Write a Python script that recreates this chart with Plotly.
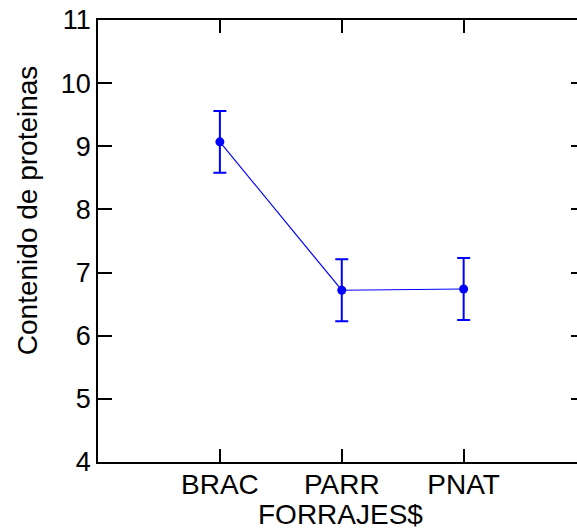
import plotly.graph_objects as go

categories = ["BRAC", "PARR", "PNAT"]
means = [9.07, 6.72, 6.74]
errors = [0.49, 0.49, 0.49]
y_ticks = [4, 5, 6, 7, 8, 9, 10, 11]

FONT = "Liberation Sans, Arial, sans-serif"
BLUE = "#0000FF"

fig = go.Figure()
fig.add_trace(go.Scatter(
    x=categories, y=means,
    mode="lines+markers",
    line=dict(color=BLUE, width=1.2),
    marker=dict(color=BLUE, size=9),
    error_y=dict(type="data", array=errors, visible=True,
                 color=BLUE, thickness=2, width=6.5),
    showlegend=False, hoverinfo="skip",
))
# invisible trace to anchor right-side ticks
fig.add_trace(go.Scatter(x=categories, y=means, yaxis="y2", mode="markers",
                         marker=dict(opacity=0), showlegend=False, hoverinfo="skip"))

fig.update_layout(
    width=577, height=529,
    margin=dict(l=98, r=0, t=20, b=67),
    paper_bgcolor="white", plot_bgcolor="white",
    font=dict(family=FONT, color="black", size=27),
    xaxis=dict(
        type="category", range=[-1, 2.93],
        showline=True, linecolor="black", linewidth=1.5, mirror="ticks",
        ticks="inside", ticklen=13, tickwidth=1.5, tickcolor="black",
        showgrid=False, zeroline=False, ticklabelstandoff=-3,
        tickfont=dict(family=FONT, size=28, color="black"),
    ),
    yaxis=dict(
        range=[4, 11], tickvals=y_ticks,
        showline=True, linecolor="black", linewidth=1.5,
        ticks="inside", ticklen=14, tickwidth=1.5, tickcolor="black",
        showgrid=False, zeroline=False,
        tickfont=dict(family=FONT, size=27, color="black"),
    ),
    yaxis2=dict(
        range=[4, 11], tickvals=y_ticks, overlaying="y", side="right",
        showline=False, ticks="inside", ticklen=6, tickwidth=1.5, tickcolor="black",
        showticklabels=False, showgrid=False, zeroline=False,
    ),
    annotations=[
        dict(text="Contenido de proteinas", textangle=-90,
             xref="paper", yref="paper", x=-0.148, y=0.57,
             xanchor="center", yanchor="middle", showarrow=False,
             font=dict(family=FONT, size=28, color="black")),
        dict(text="FORRAJES$",
             xref="paper", yref="paper", x=0.507, y=-0.118,
             xanchor="center", yanchor="middle", showarrow=False,
             font=dict(family=FONT, size=28, color="black")),
    ],
)

fig.write_html("out.html")
